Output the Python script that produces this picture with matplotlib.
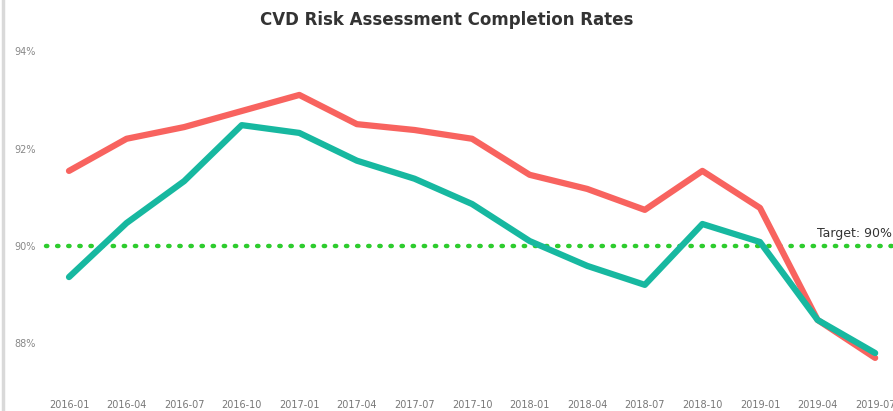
import matplotlib.pyplot as plt
from matplotlib.lines import Line2D

quarters = ['2016-01', '2016-04', '2016-07', '2016-10', '2017-01', '2017-04',
            '2017-07', '2017-10', '2018-01', '2018-04', '2018-07', '2018-10',
            '2019-01', '2019-04', '2019-07']
series_red = [91.54, 92.20, 92.44, 92.77, 93.10, 92.50, 92.38, 92.20,
              91.46, 91.17, 90.74, 91.54, 90.78, 88.48, 87.70]
series_teal = [89.36, 90.47, 91.33, 92.48, 92.32, 91.75, 91.38, 90.86,
               90.10, 89.59, 89.20, 90.45, 90.08, 88.48, 87.80]
target = 90
y_ticks = [88, 90, 92, 94]

fig = plt.figure(figsize=(8.93, 4.11), dpi=100)
ax = fig.add_axes([3 / 893, 19 / 411, 890 / 893, 355.5 / 411])
x = list(range(len(quarters)))

# target line
ax.plot([-0.4, 15], [target, target], color='#2ecc2e', linestyle=(0, (0.3, 2.2)),
        linewidth=3.2, dash_capstyle='round', zorder=1)
ax.text(14.3, target + 0.12, 'Target: 90%', ha='right', va='bottom',
        fontsize=9, color='#333333')

ax.plot(x, series_red, color='#f8635f', linewidth=4.5,
        solid_capstyle='round', solid_joinstyle='round', zorder=2)
ax.plot(x, series_teal, color='#17b8a0', linewidth=4.5,
        solid_capstyle='round', solid_joinstyle='round', zorder=3)

# formatting
ax.set_xlim(-1.146, 14.31)
ax.set_ylim(87.0, 94.3)
ax.set_xticks(x)
ax.set_xticklabels(quarters)
ax.set_yticks(y_ticks)
ax.set_yticklabels(['%d%%' % v for v in y_ticks])
ax.tick_params(axis='x', length=0, pad=6, labelsize=7, labelcolor='#777777')
ax.tick_params(axis='y', length=0, pad=-8, labelsize=7, labelcolor='#888888')
for lab in ax.get_yticklabels():
    lab.set_horizontalalignment('left')
for s in ax.spines.values():
    s.set_visible(False)

fig.add_artist(Line2D([3 / 893, 3 / 893], [0, 1], color='#d9d9d9',
                      linewidth=2.5, transform=fig.transFigure))
fig.text(447 / 893, 1 - 20 / 411, 'CVD Risk Assessment Completion Rates',
         ha='center', va='center', fontsize=12, fontweight='bold',
         color='#333333')

plt.savefig('out.png', dpi=100)
